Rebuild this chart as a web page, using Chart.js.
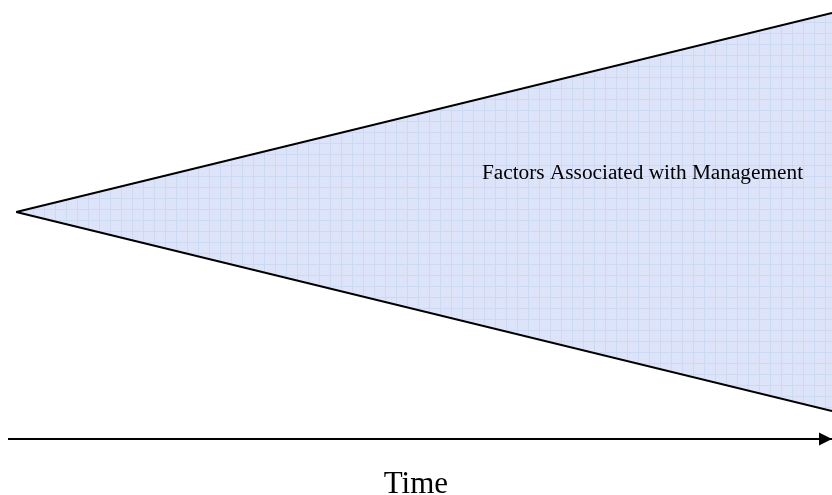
<!DOCTYPE html>
<html>
<head>
<meta charset="utf-8">
<script src="https://cdn.jsdelivr.net/npm/chart.js@4"></script>
<style>
  html, body { margin: 0; padding: 0; background: #ffffff; }
  #wrap { width: 832px; height: 495px; position: relative; }
</style>
</head>
<body>
<div id="wrap"><canvas id="c"></canvas></div>
<script>
// ---- data ----
const wedgeTime = [1, 100];        // time at apex and at the right end of the wedge
const upperSpread = [0, 50];       // upper edge of the wedge
const lowerSpread = [0, -50];      // lower edge of the wedge
const axisTime = [0, 100];         // time arrow from start to end
const axisLevel = [-57, -57];      // level of the time arrow
const wedgeLabel = 'Factors Associated with Management';
const wedgeLabelTime = 77;
const wedgeLabelLevel = 8.3;
const axisTitle = 'Time';
const axisTitleTime = 49.5;

// ---- pattern fill (light blue grid texture) ----
function makePattern() {
  const s = 11;
  const p = document.createElement('canvas');
  p.width = s; p.height = s;
  const g = p.getContext('2d');
  g.fillStyle = '#dde3f8';
  g.fillRect(0, 0, s, s);
  g.fillStyle = '#ccd9f3';
  g.fillRect(0, 0, s, 1);
  g.fillRect(0, 0, 1, s);
  return g.createPattern(p, 'repeat');
}

const pts = (xs, ys) => xs.map((x, i) => ({ x: x, y: ys[i] }));

const annotations = {
  id: 'annotations',
  afterDatasetsDraw(chart) {
    const ctx = chart.ctx;
    const xs = chart.scales.x, ys = chart.scales.y;
    ctx.save();
    ctx.fillStyle = '#000000';
    // label inside the wedge
    ctx.font = '21.3px "Liberation Serif", "Times New Roman", serif';
    ctx.textAlign = 'center';
    ctx.textBaseline = 'alphabetic';
    ctx.fillText(wedgeLabel, xs.getPixelForValue(wedgeLabelTime), ys.getPixelForValue(wedgeLabelLevel));
    // arrow head at the end of the time axis
    const meta = chart.getDatasetMeta(2);
    const last = meta.data[meta.data.length - 1];
    ctx.beginPath();
    ctx.moveTo(last.x, last.y);
    ctx.lineTo(last.x - 13, last.y - 6.5);
    ctx.lineTo(last.x - 13, last.y + 6.5);
    ctx.closePath();
    ctx.fill();
    // axis title below the arrow
    ctx.font = '31px "Liberation Serif", "Times New Roman", serif';
    ctx.fillText(axisTitle, xs.getPixelForValue(axisTitleTime), last.y + 54);
    ctx.restore();
  }
};

new Chart(document.getElementById('c'), {
  type: 'line',
  data: {
    datasets: [
      {
        data: pts(wedgeTime, upperSpread),
        borderColor: '#000000',
        borderWidth: 2,
        pointRadius: 0,
        fill: '+1',
        backgroundColor: makePattern(),
        tension: 0,
        clip: false
      },
      {
        data: pts(wedgeTime, lowerSpread),
        borderColor: '#000000',
        borderWidth: 2,
        pointRadius: 0,
        fill: false,
        tension: 0,
        clip: false
      },
      {
        data: pts(axisTime, axisLevel),
        borderColor: '#000000',
        borderWidth: 2,
        pointRadius: 0,
        fill: false,
        tension: 0,
        clip: false
      }
    ]
  },
  options: {
    responsive: true,
    maintainAspectRatio: false,
    devicePixelRatio: 1,
    animation: false,
    layout: { padding: { left: 8, right: 0, top: 13, bottom: 56 } },
    plugins: {
      legend: { display: false },
      tooltip: { enabled: false },
      filler: { drawTime: 'beforeDatasetsDraw' }
    },
    scales: {
      x: { type: 'linear', display: false, min: 0, max: 100 },
      y: { type: 'linear', display: false, min: -57, max: 50 }
    }
  },
  plugins: [annotations]
});
</script>
</body>
</html>
